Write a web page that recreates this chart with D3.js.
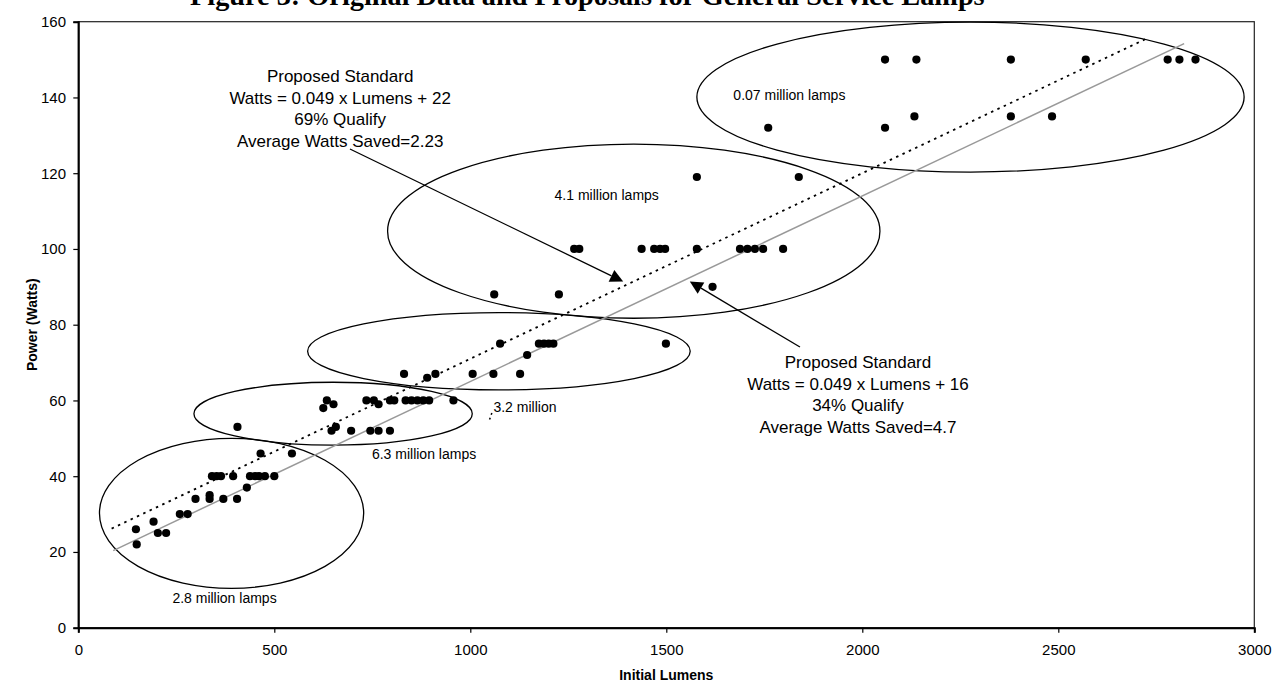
<!DOCTYPE html>
<html>
<head>
<meta charset="utf-8">
<script src="https://cdn.jsdelivr.net/npm/d3@7"></script>
<style>
  body { margin: 0; background: #fff; }
  svg { display: block; font-family: "Liberation Sans", Arial, sans-serif; }
</style>
</head>
<body>
<div id="chart"></div>
<script>
/**
 * DATA
 * */
const lumens = [147, 149, 192, 203, 224, 259, 279, 299, 335, 335, 370, 405, 341, 353, 364, 395, 430, 438, 451, 461, 476, 500, 465, 545, 406,
  625, 634, 651, 646, 657, 696, 745, 766, 795,
  735, 754, 766, 795, 806, 835, 850, 865, 880, 895, 957,
  831, 890, 911, 1006, 1059, 1127, 1145,
  1076, 1175, 1188, 1200, 1212, 1499,
  1061, 1226, 1618,
  1265, 1278, 1437, 1469, 1484, 1497, 1578, 1688, 1707, 1726, 1747, 1798,
  1578, 1838,
  1760, 2058, 2133, 2379, 2484,
  2058, 2138, 2379, 2570, 2779, 2809, 2850];
const watts = [26, 22, 28, 25, 25, 30, 30, 34, 35, 34, 34, 34, 40, 40, 40, 40, 37, 40, 40, 40, 40, 40, 46, 46, 53,
  58, 60, 59, 52, 53, 52, 52, 52, 52,
  60, 60, 59, 60, 60, 60, 60, 60, 60, 60, 60,
  67, 66, 67, 67, 67, 67, 72,
  75, 75, 75, 75, 75, 75,
  88, 88, 90,
  100, 100, 100, 100, 100, 100, 100, 100, 100, 100, 100, 100,
  119, 119,
  132, 132, 135, 135, 135,
  150, 150, 150, 150, 150, 150, 150];

const xTicks = [0, 500, 1000, 1500, 2000, 2500, 3000];
const yTicks = [0, 20, 40, 60, 80, 100, 120, 140, 160];

// proposed standards: Watts = slope x Lumens + intercept
const standardSlope = 0.049;
const standardIntercepts = [22, 16];
const standardRanges = [[85, 2728], [89, 2821]];

// lamp groups circled on the chart (data units)
const groupNames = ["2.8 million lamps", "6.3 million lamps", "3.2 million", "4.1 million lamps", "0.07 million lamps"];
const groupCx = [391, 650, 1073, 1417, 2276];
const groupCy = [30.2, 56.5, 73.0, 104.7, 140.1];
const groupRx = [337, 355, 488, 628, 698];
const groupRy = [19.8, 8.3, 10.2, 23.0, 19.8];

const noteLinesA = ["Proposed Standard", "Watts = 0.049 x Lumens + 22", "69% Qualify", "Average Watts Saved=2.23"];
const noteLinesB = ["Proposed Standard", "Watts = 0.049 x Lumens + 16", "34% Qualify", "Average Watts Saved=4.7"];

/**
 * CONSTANTS AND GLOBALS
 * */
const width = 1273,
  height = 686,
  margin = { top: 21.7, bottom: 58.3, left: 78.3, right: 18.7 };

let svg, x, y;

function init() {
  svg = d3.select("#chart")
    .append("svg")
    .attr("width", width)
    .attr("height", height);

  x = d3.scaleLinear().domain([0, 3000]).range([margin.left, width - margin.right]);
  y = d3.scaleLinear().domain([0, 160]).range([height - margin.bottom, margin.top]);

  // title, mostly cut off at the top of the page (as in the original)
  const title = svg.append("text")
    .attr("x", 190)
    .attr("y", 5)
    .style("font-family", "'Liberation Serif', 'Times New Roman', serif")
    .style("font-weight", "bold")
    .style("font-size", "25px")
    .text("Figure 3: Original Data and Proposals for General Service Lamps");
  const tw = title.node().getComputedTextLength();
  title.style("font-size", (25 * 795 / tw) + "px");

  // plot border
  svg.append("rect")
    .attr("x", x(0)).attr("y", y(160))
    .attr("width", x(3000) - x(0)).attr("height", y(0) - y(160))
    .attr("fill", "none").attr("stroke", "#222").attr("stroke-width", 1.2);

  draw();
}

function draw() {
  // group ellipses
  svg.append("g")
    .selectAll("ellipse")
    .data(groupNames)
    .join("ellipse")
    .attr("cx", (d, i) => x(groupCx[i]))
    .attr("cy", (d, i) => y(groupCy[i]))
    .attr("rx", (d, i) => x(groupCx[i] + groupRx[i]) - x(groupCx[i]))
    .attr("ry", (d, i) => y(groupCy[i] - groupRy[i]) - y(groupCy[i]))
    .attr("fill", "none")
    .attr("stroke", "#000")
    .attr("stroke-width", 1.3);

  // standard lines
  const line = d3.line().x(d => x(d[0])).y(d => y(d[1]));
  standardIntercepts.forEach((b, i) => {
    const pts = standardRanges[i].map(l => [l, standardSlope * l + b]);
    svg.append("path")
      .attr("d", line(pts))
      .attr("fill", "none")
      .attr("stroke", i === 0 ? "#000" : "#999")
      .attr("stroke-width", i === 0 ? 1.8 : 1.5)
      .attr("stroke-dasharray", i === 0 ? "2.5,4.5" : null);
  });
  // little dotted leader under "3.2 million"
  svg.append("path")
    .attr("d", line([[1055, 56.7], [1048, 54.6]]))
    .attr("stroke", "#000").attr("stroke-width", 1.5)
    .attr("stroke-dasharray", "2,3");

  // points
  svg.append("g")
    .selectAll("circle")
    .data(lumens)
    .join("circle")
    .attr("cx", d => x(d))
    .attr("cy", (d, i) => y(watts[i]))
    .attr("r", 4.1)
    .attr("fill", "#000");

  // group labels
  const labelAt = [[373, 6.5, "middle"], [882, 44.5, "middle"], [1059, 57.0, "start"], [1348, 112.8, "middle"], [1814, 139.3, "middle"]];
  svg.append("g")
    .selectAll("text")
    .data(groupNames)
    .join("text")
    .attr("x", (d, i) => x(labelAt[i][0]))
    .attr("y", (d, i) => y(labelAt[i][1]))
    .attr("text-anchor", (d, i) => labelAt[i][2])
    .style("font-size", "14px")
    .text(d => d);

  // notes with arrows
  const notes = [
    { lines: noteLinesA, at: [668, 144.1], tail: [693, 126.4], tip: [1390, 91.4] },
    { lines: noteLinesB, at: [1989, 68.6], tail: [1841, 74.1], tip: [1560, 91.4] }
  ];
  notes.forEach(n => {
    svg.append("text")
      .attr("text-anchor", "middle")
      .style("font-size", "17px")
      .selectAll("tspan")
      .data(n.lines)
      .join("tspan")
      .attr("x", x(n.at[0]))
      .attr("y", (d, i) => y(n.at[1]) + i * 21.7)
      .text(d => d);

    const x0 = x(n.tail[0]), y0 = y(n.tail[1]), x1 = x(n.tip[0]), y1 = y(n.tip[1]);
    const a = Math.atan2(y1 - y0, x1 - x0);
    const len = 13, half = 6.5;
    const bx = x1 - len * Math.cos(a), by = y1 - len * Math.sin(a);
    svg.append("line")
      .attr("x1", x0).attr("y1", y0).attr("x2", bx).attr("y2", by)
      .attr("stroke", "#000").attr("stroke-width", 1.3);
    svg.append("path")
      .attr("d", `M${x1},${y1}L${bx + half * Math.sin(a)},${by - half * Math.cos(a)}L${bx - half * Math.sin(a)},${by + half * Math.cos(a)}Z`)
      .attr("fill", "#000");
  });

  // axes
  const xAxis = svg.append("g")
    .attr("transform", `translate(0,${y(0)})`)
    .call(d3.axisBottom(x).tickValues(xTicks).tickSize(5).tickPadding(12).tickFormat(d3.format("d")));
  const yAxis = svg.append("g")
    .attr("transform", `translate(${x(0)},0)`)
    .call(d3.axisLeft(y).tickValues(yTicks).tickSize(5).tickPadding(7.3).tickFormat(d3.format("d")));
  [xAxis, yAxis].forEach(g => {
    g.select(".domain").attr("stroke", "#000").attr("stroke-width", 2);
    g.selectAll(".tick line").attr("stroke", "#000").attr("stroke-width", 1.2);
    g.selectAll(".tick text").attr("fill", "#000").style("font-size", "15px")
      .style("font-family", "'Liberation Sans', Arial, sans-serif");
  });

  svg.append("text")
    .attr("x", (x(0) + x(3000)) / 2)
    .attr("y", 680)
    .attr("text-anchor", "middle")
    .style("font-size", "14px").style("font-weight", "bold")
    .text("Initial Lumens");
  svg.append("text")
    .attr("transform", `translate(37,${(y(0) + y(160)) / 2}) rotate(-90)`)
    .attr("text-anchor", "middle")
    .style("font-size", "14px").style("font-weight", "bold")
    .text("Power (Watts)");
}

init();
</script>
</body>
</html>
